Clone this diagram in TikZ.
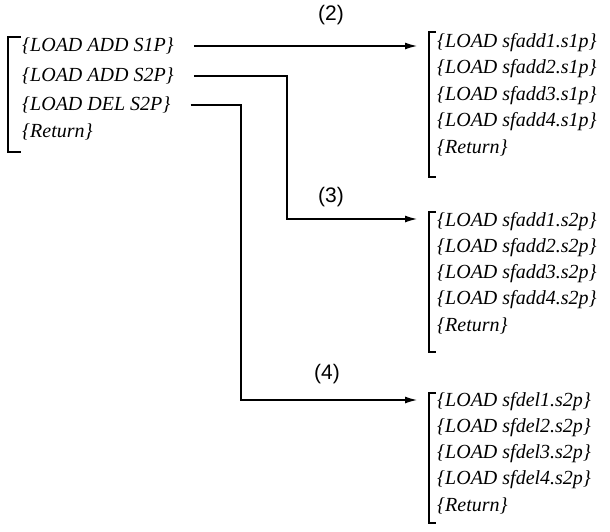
\documentclass[tikz,border=0pt]{standalone}
\usepackage{fontspec}
\setmainfont{Liberation Serif}
\newfontfamily\labelfont{Liberation Sans}
\usetikzlibrary{arrows.meta,positioning}

\begin{document}
\begin{tikzpicture}[x=1pt,y=-1pt,
every node/.style={inner sep=0pt},
item/.style={anchor=west,font=\itshape\fontsize{20}{20}\selectfont},
num/.style={font=\labelfont\fontsize{21}{21}\selectfont},
brk/.style={line width=1.2pt},
arr/.style={line width=1.2pt,shorten <=20pt,shorten >=20pt,-{Latex[length=12pt,width=7pt]}}]
\useasboundingbox (0,0) rectangle (610,531);
% main menu
\node[item] (L1) at (22,46) {\{LOAD ADD S1P\}};
\node[item] (L2) at (22,76) {\{LOAD ADD S2P\}};
\node[item] (L3) at (22,105) {\{LOAD DEL S2P\}};
\node[item] (L4) at (22,132) {\{Return\}};
\draw[brk] (21,37)--(8,37)--(8,152)--(21,152);
% sub menu (2)
\node[item] (A1) at (437,43) {\{LOAD sfadd1.s1p\}};
\node[item] (A2) at (437,69) {\{LOAD sfadd2.s1p\}};
\node[item] (A3) at (437,96) {\{LOAD sfadd3.s1p\}};
\node[item] (A4) at (437,122) {\{LOAD sfadd4.s1p\}};
\node[item] (A5) at (437,148) {\{Return\}};
\draw[brk] (436,32)--(429,32)--(429,177)--(436,177);
% sub menu (3)
\node[item] (B1) at (437,222) {\{LOAD sfadd1.s2p\}};
\node[item] (B2) at (437,248) {\{LOAD sfadd2.s2p\}};
\node[item] (B3) at (437,274) {\{LOAD sfadd3.s2p\}};
\node[item] (B4) at (437,300) {\{LOAD sfadd4.s2p\}};
\node[item] (B5) at (437,326) {\{Return\}};
\draw[brk] (436,212)--(429,212)--(429,352)--(436,352);
% sub menu (4)
\node[item] (D1) at (437,402) {\{LOAD sfdel1.s2p\}};
\node[item] (D2) at (437,428) {\{LOAD sfdel2.s2p\}};
\node[item] (D3) at (437,454) {\{LOAD sfdel3.s2p\}};
\node[item] (D4) at (437,480) {\{LOAD sfdel4.s2p\}};
\node[item] (D5) at (437,506) {\{Return\}};
\draw[brk] (436,393)--(429,393)--(429,523)--(436,523);
% links
\coordinate (c2) at (287,219);
\coordinate (c3) at (241,400);
\draw[arr] (L1.east)--(L1.east -| A1.west);
\draw[arr] (L2.east) -| (c2)--(c2 -| B1.west);
\draw[arr] (L3.east) -| (c3)--(c3 -| D1.west);
\node[num] (n2) at (331,15) {(2)};
\node[num] (n3) at (331,197) {(3)};
\node[num] (n4) at (327,374) {(4)};
\end{tikzpicture}
\end{document}
